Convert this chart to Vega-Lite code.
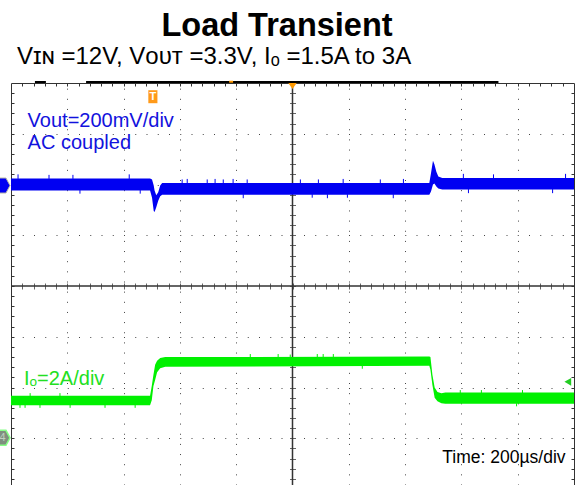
{
  "$schema": "https://vega.github.io/schema/vega-lite/v6.json",
  "autosize": "none",
  "width": 563,
  "height": 402,
  "padding": {"left": 11, "top": 83, "right": 2, "bottom": 0},
  "background": "white",
  "config": {"view": {"stroke": "#333333", "strokeWidth": 1}, "font": "Liberation Sans"},
  "datasets": {
    "traces": [
      {"ch": "Vout", "t": 0, "lo": 1.88, "hi": 2.12},
      {"ch": "Vout", "t": 494, "lo": 1.88, "hi": 2.12},
      {"ch": "Vout", "t": 501, "lo": 1.74, "hi": 2.10},
      {"ch": "Vout", "t": 507, "lo": 1.48, "hi": 1.98},
      {"ch": "Vout", "t": 510, "lo": 1.46, "hi": 1.88},
      {"ch": "Vout", "t": 516, "lo": 1.55, "hi": 1.79},
      {"ch": "Vout", "t": 523, "lo": 1.68, "hi": 1.85},
      {"ch": "Vout", "t": 530, "lo": 1.77, "hi": 1.98},
      {"ch": "Vout", "t": 537, "lo": 1.80, "hi": 2.03},
      {"ch": "Vout", "t": 1486, "lo": 1.80, "hi": 2.03},
      {"ch": "Vout", "t": 1492, "lo": 1.86, "hi": 2.22},
      {"ch": "Vout", "t": 1499, "lo": 2.00, "hi": 2.47},
      {"ch": "Vout", "t": 1504, "lo": 2.02, "hi": 2.40},
      {"ch": "Vout", "t": 1511, "lo": 1.96, "hi": 2.25},
      {"ch": "Vout", "t": 1518, "lo": 1.92, "hi": 2.16},
      {"ch": "Vout", "t": 1532, "lo": 1.90, "hi": 2.13},
      {"ch": "Vout", "t": 2000, "lo": 1.90, "hi": 2.13},
      {"ch": "Io", "t": 0, "lo": -2.35, "hi": -2.16},
      {"ch": "Io", "t": 494, "lo": -2.35, "hi": -2.16},
      {"ch": "Io", "t": 500, "lo": -2.25, "hi": -1.97},
      {"ch": "Io", "t": 506, "lo": -1.97, "hi": -1.75},
      {"ch": "Io", "t": 512, "lo": -1.85, "hi": -1.55},
      {"ch": "Io", "t": 519, "lo": -1.70, "hi": -1.47},
      {"ch": "Io", "t": 530, "lo": -1.62, "hi": -1.42},
      {"ch": "Io", "t": 548, "lo": -1.59, "hi": -1.40},
      {"ch": "Io", "t": 1486, "lo": -1.57, "hi": -1.39},
      {"ch": "Io", "t": 1490, "lo": -1.65, "hi": -1.40},
      {"ch": "Io", "t": 1497, "lo": -1.95, "hi": -1.75},
      {"ch": "Io", "t": 1505, "lo": -2.20, "hi": -2.00},
      {"ch": "Io", "t": 1515, "lo": -2.27, "hi": -2.09},
      {"ch": "Io", "t": 1529, "lo": -2.31, "hi": -2.11},
      {"ch": "Io", "t": 1543, "lo": -2.32, "hi": -2.10},
      {"ch": "Io", "t": 2000, "lo": -2.32, "hi": -2.10}
    ],
    "spikes": [
      {"ch": "Vout", "t": 25, "lo": 2.11, "hi": 2.20},
      {"ch": "Vout", "t": 135, "lo": 2.11, "hi": 2.19},
      {"ch": "Vout", "t": 220, "lo": 2.11, "hi": 2.19},
      {"ch": "Vout", "t": 420, "lo": 2.11, "hi": 2.20},
      {"ch": "Vout", "t": 245, "lo": 1.82, "hi": 1.89},
      {"ch": "Vout", "t": 459, "lo": 1.82, "hi": 1.89},
      {"ch": "Vout", "t": 608, "lo": 2.02, "hi": 2.10},
      {"ch": "Vout", "t": 626, "lo": 2.02, "hi": 2.11},
      {"ch": "Vout", "t": 697, "lo": 2.02, "hi": 2.10},
      {"ch": "Vout", "t": 725, "lo": 2.02, "hi": 2.11},
      {"ch": "Vout", "t": 754, "lo": 2.02, "hi": 2.10},
      {"ch": "Vout", "t": 789, "lo": 2.02, "hi": 2.11},
      {"ch": "Vout", "t": 839, "lo": 2.02, "hi": 2.10},
      {"ch": "Vout", "t": 1028, "lo": 2.02, "hi": 2.10},
      {"ch": "Vout", "t": 1092, "lo": 2.02, "hi": 2.10},
      {"ch": "Vout", "t": 1180, "lo": 2.02, "hi": 2.11},
      {"ch": "Vout", "t": 1312, "lo": 2.02, "hi": 2.10},
      {"ch": "Vout", "t": 1394, "lo": 2.02, "hi": 2.11},
      {"ch": "Vout", "t": 825, "lo": 1.73, "hi": 1.81},
      {"ch": "Vout", "t": 1070, "lo": 1.74, "hi": 1.81},
      {"ch": "Vout", "t": 1124, "lo": 1.73, "hi": 1.81},
      {"ch": "Vout", "t": 1195, "lo": 1.74, "hi": 1.81},
      {"ch": "Vout", "t": 1358, "lo": 1.73, "hi": 1.81},
      {"ch": "Vout", "t": 1607, "lo": 2.12, "hi": 2.21},
      {"ch": "Vout", "t": 1714, "lo": 2.12, "hi": 2.20},
      {"ch": "Vout", "t": 1970, "lo": 2.12, "hi": 2.21},
      {"ch": "Vout", "t": 1625, "lo": 1.83, "hi": 1.91},
      {"ch": "Vout", "t": 1924, "lo": 1.83, "hi": 1.91},
      {"ch": "Io", "t": 32, "lo": -2.40, "hi": -2.34},
      {"ch": "Io", "t": 50, "lo": -2.40, "hi": -2.34},
      {"ch": "Io", "t": 103, "lo": -2.40, "hi": -2.34},
      {"ch": "Io", "t": 210, "lo": -2.40, "hi": -2.34},
      {"ch": "Io", "t": 334, "lo": -2.40, "hi": -2.34},
      {"ch": "Io", "t": 441, "lo": -2.40, "hi": -2.34},
      {"ch": "Io", "t": 68, "lo": -2.17, "hi": -2.11},
      {"ch": "Io", "t": 174, "lo": -2.17, "hi": -2.11},
      {"ch": "Io", "t": 850, "lo": -1.41, "hi": -1.34},
      {"ch": "Io", "t": 949, "lo": -1.41, "hi": -1.34},
      {"ch": "Io", "t": 992, "lo": -1.41, "hi": -1.35},
      {"ch": "Io", "t": 1088, "lo": -1.41, "hi": -1.34},
      {"ch": "Io", "t": 1109, "lo": -1.41, "hi": -1.34},
      {"ch": "Io", "t": 1145, "lo": -1.41, "hi": -1.34},
      {"ch": "Io", "t": 1248, "lo": -1.63, "hi": -1.56},
      {"ch": "Io", "t": 1596, "lo": -2.11, "hi": -2.05},
      {"ch": "Io", "t": 1671, "lo": -2.11, "hi": -2.05},
      {"ch": "Io", "t": 1817, "lo": -2.11, "hi": -2.05},
      {"ch": "Io", "t": 1796, "lo": -2.37, "hi": -2.31}
    ]
  },
  "resolve": {"axis": {"x": "independent", "y": "independent"}},
  "layer": [
    {
      "data": {"values": [{"line": "vertical center"}]},
      "mark": {"type": "rule", "color": "#333333", "strokeWidth": 1.5},
      "encoding": {
        "x": {"datum": 1000, "type": "quantitative", "scale": {"domain": [0, 2000], "nice": false, "zero": false},
          "axis": {"orient": "top", "offset": -206, "values": [40,80,120,160,200,240,280,320,360,400,440,480,520,560,600,640,680,720,760,800,840,880,920,960,1000,1040,1080,1120,1160,1200,1240,1280,1320,1360,1400,1440,1480,1520,1560,1600,1640,1680,1720,1760,1800,1840,1880,1920,1960], "tickSize": 6, "tickColor": "#666666", "tickWidth": 1, "domain": false, "labels": false, "grid": false, "title": null}}
      }
    },
    {
      "data": {"values": [{"line": "horizontal center"}]},
      "mark": {"type": "rule", "color": "#333333", "strokeWidth": 1.5},
      "encoding": {
        "y": {"datum": 0, "type": "quantitative", "scale": {"domain": [-3.92, 4], "nice": false, "zero": false},
          "axis": {"orient": "left", "offset": -284.5, "values": [-3.8,-3.6,-3.4,-3.2,-3,-2.8,-2.6,-2.4,-2.2,-2,-1.8,-1.6,-1.4,-1.2,-1,-0.8,-0.6,-0.4,-0.2,0,0.2,0.4,0.6,0.8,1,1.2,1.4,1.6,1.8,2,2.2,2.4,2.6,2.8,3,3.2,3.4,3.6,3.8], "tickSize": 6, "tickColor": "#666666", "tickWidth": 1, "domain": false, "labels": false, "grid": false, "title": null}}
      }
    },
    {
      "data": {"values": [{"segment": "record", "from": 266.7, "to": 1731.6}, {"segment": "record start", "from": 85, "to": 124}]},
      "mark": {"type": "rule", "color": "#000000", "strokeWidth": 2},
      "encoding": {
        "x": {"field": "from", "type": "quantitative", "scale": {"domain": [0, 2000], "nice": false, "zero": false}, "axis": null},
        "x2": {"field": "to"},
        "y": {"datum": 4.02, "type": "quantitative", "scale": {"domain": [-3.92, 4], "nice": false, "zero": false}, "axis": null}
      }
    },
    {
      "data": {"values": [{"segment": "trigger position", "from": 775, "to": 789}]},
      "mark": {"type": "rule", "color": "#ff9900", "strokeWidth": 2},
      "encoding": {
        "x": {"field": "from", "type": "quantitative", "scale": {"domain": [0, 2000], "nice": false, "zero": false}, "axis": null},
        "x2": {"field": "to"},
        "y": {"datum": 4.025, "type": "quantitative", "scale": {"domain": [-3.92, 4], "nice": false, "zero": false}, "axis": null}
      }
    },
    {
      "data": {"name": "traces"},
      "mark": {"type": "area", "opacity": 1},
      "encoding": {
        "x": {"field": "t", "type": "quantitative", "scale": {"domain": [0, 2000], "nice": false, "zero": false},
          "axis": {"orient": "top", "values": [200,400,600,800,1200,1400,1600,1800], "grid": true, "gridDash": [1, 9.15], "gridColor": "#444444", "gridWidth": 1, "gridOpacity": 1, "ticks": false, "labels": false, "domain": false, "title": null}},
        "y": {"field": "lo", "type": "quantitative", "scale": {"domain": [-3.92, 4], "nice": false, "zero": false},
          "axis": {"orient": "left", "values": [-3,-2,-1,1,2,3], "grid": true, "gridDash": [1, 10.25], "gridColor": "#444444", "gridWidth": 1, "gridOpacity": 1, "ticks": false, "labels": false, "domain": false, "title": null}},
        "y2": {"field": "hi"},
        "color": {"field": "ch", "type": "nominal", "scale": {"domain": ["Vout", "Io"], "range": ["#0000f2", "#00f000"]}, "legend": null}
      }
    },
    {
      "data": {"name": "spikes"},
      "mark": {"type": "rule", "strokeWidth": 1},
      "encoding": {
        "x": {"field": "t", "type": "quantitative", "scale": {"domain": [0, 2000], "nice": false, "zero": false},
          "axis": {"orient": "top", "values": [40,80,120,160,200,240,280,320,360,400,440,480,520,560,600,640,680,720,760,800,840,880,920,960,1000,1040,1080,1120,1160,1200,1240,1280,1320,1360,1400,1440,1480,1520,1560,1600,1640,1680,1720,1760,1800,1840,1880,1920,1960], "tickSize": -3, "tickColor": "#333333", "tickWidth": 1, "domain": false, "labels": false, "grid": false, "title": null}},
        "y": {"field": "lo", "type": "quantitative", "scale": {"domain": [-3.92, 4], "nice": false, "zero": false},
          "axis": {"orient": "left", "values": [-3.8,-3.6,-3.4,-3.2,-3,-2.8,-2.6,-2.4,-2.2,-2,-1.8,-1.6,-1.4,-1.2,-1,-0.8,-0.6,-0.4,-0.2,0,0.2,0.4,0.6,0.8,1,1.2,1.4,1.6,1.8,2,2.2,2.4,2.6,2.8,3,3.2,3.4,3.6,3.8], "tickSize": -3, "tickColor": "#333333", "tickWidth": 1, "domain": false, "labels": false, "grid": false, "title": null}},
        "y2": {"field": "hi"},
        "color": {"field": "ch", "type": "nominal", "scale": {"domain": ["Vout", "Io"], "range": ["#0000f2", "#00f000"]}, "legend": null}
      }
    },
    {
      "data": {"values": [{"label": "Load Transient"}]},
      "mark": {"type": "text", "align": "center", "baseline": "alphabetic", "fontSize": 32.5, "fontWeight": "bold", "font": "Liberation Sans", "color": "#000000"},
      "encoding": {
        "x": {"datum": 945, "type": "quantitative", "scale": {"domain": [0, 2000], "nice": false, "zero": false}, "axis": null},
        "y": {"datum": 4.935, "type": "quantitative", "scale": {"domain": [-3.92, 4], "nice": false, "zero": false}, "axis": null},
        "text": {"field": "label"}
      }
    },
    {
      "data": {"values": [{"label": "Vɪɴ =12V, Vᴏᴜᴛ =3.3V, Iₒ =1.5A to 3A"}]},
      "mark": {"type": "text", "align": "left", "baseline": "alphabetic", "fontSize": 24, "font": "Liberation Sans", "color": "#000000"},
      "encoding": {
        "x": {"datum": 21.3, "type": "quantitative", "scale": {"domain": [0, 2000], "nice": false, "zero": false}, "axis": null},
        "y": {"datum": 4.375, "type": "quantitative", "scale": {"domain": [-3.92, 4], "nice": false, "zero": false},
          "axis": {"orient": "right", "values": [-3.8,-3.6,-3.4,-3.2,-3,-2.8,-2.6,-2.4,-2.2,-2,-1.8,-1.6,-1.4,-1.2,-1,-0.8,-0.6,-0.4,-0.2,0,0.2,0.4,0.6,0.8,1,1.2,1.4,1.6,1.8,2,2.2,2.4,2.6,2.8,3,3.2,3.4,3.6,3.8], "tickSize": -3, "tickColor": "#333333", "tickWidth": 1, "domain": false, "labels": false, "grid": false, "title": null}},
        "text": {"field": "label"}
      }
    },
    {
      "data": {"values": [{"label": "Vout=200mV/div"}]},
      "mark": {"type": "text", "align": "left", "baseline": "alphabetic", "fontSize": 20, "font": "Liberation Sans", "color": "#1212dd"},
      "encoding": {
        "x": {"datum": 59, "type": "quantitative", "scale": {"domain": [0, 2000], "nice": false, "zero": false}, "axis": null},
        "y": {"datum": 3.133, "type": "quantitative", "scale": {"domain": [-3.92, 4], "nice": false, "zero": false}, "axis": null},
        "text": {"field": "label"}
      }
    },
    {
      "data": {"values": [{"label": "AC coupled"}]},
      "mark": {"type": "text", "align": "left", "baseline": "alphabetic", "fontSize": 20, "font": "Liberation Sans", "color": "#1212dd"},
      "encoding": {
        "x": {"datum": 59, "type": "quantitative", "scale": {"domain": [0, 2000], "nice": false, "zero": false}, "axis": null},
        "y": {"datum": 2.7, "type": "quantitative", "scale": {"domain": [-3.92, 4], "nice": false, "zero": false}, "axis": null},
        "text": {"field": "label"}
      }
    },
    {
      "data": {"values": [{"label": "Iₒ=2A/div"}]},
      "mark": {"type": "text", "align": "left", "baseline": "alphabetic", "fontSize": 20, "font": "Liberation Sans", "color": "#22e022"},
      "encoding": {
        "x": {"datum": 46, "type": "quantitative", "scale": {"domain": [0, 2000], "nice": false, "zero": false}, "axis": null},
        "y": {"datum": -1.945, "type": "quantitative", "scale": {"domain": [-3.92, 4], "nice": false, "zero": false}, "axis": null},
        "text": {"field": "label"}
      }
    },
    {
      "data": {"values": [{"label": "Time: 200µs/div"}]},
      "mark": {"type": "text", "align": "right", "baseline": "alphabetic", "fontSize": 17.5, "font": "Liberation Sans", "color": "#000000"},
      "encoding": {
        "x": {"datum": 1970, "type": "quantitative", "scale": {"domain": [0, 2000], "nice": false, "zero": false}, "axis": null},
        "y": {"datum": -3.488, "type": "quantitative", "scale": {"domain": [-3.92, 4], "nice": false, "zero": false}, "axis": null},
        "text": {"field": "label"}
      }
    },
    {
      "data": {"values": [{"marker": "trigger"}]},
      "mark": {"type": "point", "shape": "M-0.7,-1H0.7V1H-0.7Z", "size": 169, "filled": true, "color": "#ff9a1a", "opacity": 1},
      "encoding": {
        "x": {"datum": 504, "type": "quantitative", "scale": {"domain": [0, 2000], "nice": false, "zero": false}, "axis": null},
        "y": {"datum": 3.73, "type": "quantitative", "scale": {"domain": [-3.92, 4], "nice": false, "zero": false}, "axis": null}
      }
    },
    {
      "data": {"values": [{"label": "T"}]},
      "mark": {"type": "text", "align": "center", "baseline": "middle", "fontSize": 11, "fontWeight": "bold", "font": "Liberation Sans", "color": "#ffffff"},
      "encoding": {
        "x": {"datum": 504, "type": "quantitative", "scale": {"domain": [0, 2000], "nice": false, "zero": false}, "axis": null},
        "y": {"datum": 3.73, "type": "quantitative", "scale": {"domain": [-3.92, 4], "nice": false, "zero": false}, "axis": null},
        "text": {"field": "label"}
      }
    },
    {
      "data": {"values": [{"marker": "trigger time"}]},
      "mark": {"type": "point", "shape": "M-1,-0.7L1,-0.7L0,0.7Z", "size": 70, "filled": true, "color": "#ff9900", "opacity": 1},
      "encoding": {
        "x": {"datum": 1000, "type": "quantitative", "scale": {"domain": [0, 2000], "nice": false, "zero": false}, "axis": null},
        "y": {"datum": 3.941, "type": "quantitative", "scale": {"domain": [-3.92, 4], "nice": false, "zero": false}, "axis": null}
      }
    },
    {
      "data": {"values": [{"marker": "channel 1 ground"}]},
      "mark": {"type": "point", "shape": "M-0.87,-1L0.33,-1L0.87,0L0.33,1L-0.87,1Z", "size": 225, "filled": true, "fill": "#0000f2", "stroke": "#b8b8a8", "strokeWidth": 1, "opacity": 1},
      "encoding": {
        "x": {"datum": -26.7, "type": "quantitative", "scale": {"domain": [0, 2000], "nice": false, "zero": false}, "axis": null},
        "y": {"datum": 1.98, "type": "quantitative", "scale": {"domain": [-3.92, 4], "nice": false, "zero": false}, "axis": null}
      }
    },
    {
      "data": {"values": [{"marker": "channel 4 ground"}]},
      "mark": {"type": "point", "shape": "M-0.87,-1L0.33,-1L0.87,0L0.33,1L-0.87,1Z", "size": 225, "filled": true, "fill": "#7f8f7f", "stroke": "#88ff88", "strokeWidth": 1.5, "opacity": 1},
      "encoding": {
        "x": {"datum": -26.7, "type": "quantitative", "scale": {"domain": [0, 2000], "nice": false, "zero": false}, "axis": null},
        "y": {"datum": -2.99, "type": "quantitative", "scale": {"domain": [-3.92, 4], "nice": false, "zero": false}, "axis": null}
      }
    },
    {
      "data": {"values": [{"label": "4"}]},
      "mark": {"type": "text", "align": "center", "baseline": "middle", "fontSize": 11, "font": "Liberation Sans", "color": "#c0d0c0"},
      "encoding": {
        "x": {"datum": -30, "type": "quantitative", "scale": {"domain": [0, 2000], "nice": false, "zero": false}, "axis": null},
        "y": {"datum": -2.99, "type": "quantitative", "scale": {"domain": [-3.92, 4], "nice": false, "zero": false}, "axis": null},
        "text": {"field": "label"}
      }
    },
    {
      "data": {"values": [{"marker": "trigger level"}]},
      "mark": {"type": "point", "shape": "triangle-left", "size": 60, "filled": true, "color": "#22cc22", "opacity": 1},
      "encoding": {
        "x": {"datum": 1978, "type": "quantitative", "scale": {"domain": [0, 2000], "nice": false, "zero": false}, "axis": null},
        "y": {"datum": -1.886, "type": "quantitative", "scale": {"domain": [-3.92, 4], "nice": false, "zero": false}, "axis": null}
      }
    }
  ]
}
